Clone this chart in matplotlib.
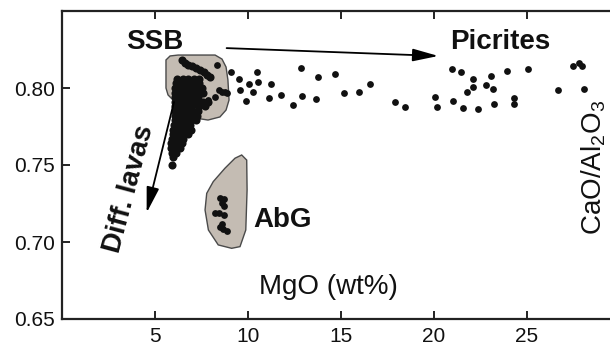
import matplotlib
matplotlib.use("Agg")
import matplotlib.pyplot as plt
from matplotlib.patches import Polygon

plt.rcParams['font.family'] = ['Liberation Sans', 'DejaVu Sans']
plt.rcParams['mathtext.fontset'] = 'custom'
plt.rcParams['mathtext.rm'] = 'Liberation Sans'

# ---- data ----
# SSB dense cluster (rows of points)
ssb_rows = [
    (0.806, [6.2, 6.5, 6.8, 7.1, 7.35]),
    (0.803, [6.15, 6.45, 6.75, 7.05, 7.35]),
    (0.800, [6.1, 6.4, 6.7, 7.0, 7.3, 7.55]),
    (0.797, [6.1, 6.4, 6.7, 7.0, 7.3, 7.6]),
    (0.794, [6.1, 6.4, 6.7, 7.0, 7.3]),
    (0.791, [6.1, 6.4, 6.7, 7.0, 7.3, 7.6, 7.85]),
    (0.788, [6.1, 6.4, 6.7, 7.0, 7.35, 7.7]),
    (0.785, [6.1, 6.4, 6.7, 7.0, 7.3]),
    (0.782, [6.1, 6.4, 6.7, 7.0, 7.25]),
    (0.779, [6.05, 6.35, 6.65, 6.95, 7.2]),
    (0.776, [6.0, 6.3, 6.6, 6.9]),
    (0.773, [5.95, 6.25, 6.55, 6.95]),
    (0.770, [5.95, 6.25, 6.5, 6.75]),
    (0.767, [5.9, 6.2, 6.5]),
    (0.764, [5.85, 6.15, 6.45]),
    (0.761, [5.85, 6.1, 6.35]),
    (0.758, [5.9, 6.15]),
    (0.7555, [5.95]),
    (0.750, [5.9]),
]
ssb_streak_x = [6.45, 6.62, 6.8, 7.0, 7.2, 7.42, 7.62, 7.8, 7.96]
ssb_streak_y = [0.8180, 0.8165, 0.8152, 0.8140, 0.8128, 0.8115, 0.8102, 0.8085, 0.8070]
ssb_edge_x = [8.32, 8.59, 8.85, 8.23, 7.85, 8.76, 8.45]
ssb_edge_y = [0.8149, 0.7976, 0.7966, 0.7944, 0.7922, 0.7976, 0.7990]

# Picrites / scattered high-MgO samples
pic_x = [9.09, 9.54, 10.47, 10.03, 10.56, 9.59, 10.28, 11.25, 9.88, 11.11,
         11.79, 12.87, 13.78, 12.89, 12.44, 13.63, 14.66, 15.17, 15.98, 16.54,
         17.90, 18.42, 20.04, 20.16, 20.95, 21.44, 21.04, 21.56, 21.76, 22.07,
         22.11, 22.35, 22.81, 23.08, 23.16, 23.21, 23.91, 24.31, 24.29, 25.07,
         26.67, 28.05, 27.45, 27.94, 27.80]
pic_y = [0.8106, 0.8060, 0.8106, 0.8024, 0.8039, 0.7987, 0.7973, 0.8029, 0.7914, 0.7937,
         0.7953, 0.8132, 0.8071, 0.7946, 0.7890, 0.7931, 0.8091, 0.7966, 0.7974, 0.8028,
         0.7906, 0.7875, 0.7944, 0.7877, 0.8122, 0.8101, 0.7914, 0.7870, 0.7976, 0.8057,
         0.8008, 0.7866, 0.8021, 0.8080, 0.7992, 0.7895, 0.8112, 0.7938, 0.7897, 0.8123,
         0.7987, 0.7995, 0.8144, 0.8144, 0.8164]

# AbG samples
abg_x = [8.49, 8.73, 8.59, 8.73, 8.23, 8.44, 8.73, 8.49, 8.67, 8.85, 8.59]
abg_y = [0.7284, 0.7277, 0.7251, 0.7234, 0.7190, 0.7186, 0.7175, 0.7099, 0.7084, 0.7071, 0.7117]

# field outlines
ssb_field_x = [5.59, 5.81, 6.24, 8.23, 8.60, 8.82, 8.92, 8.98, 8.82, 8.49, 7.85, 7.15, 6.61, 5.97, 5.70, 5.59, 5.59]
ssb_field_y = [0.8182, 0.8208, 0.8214, 0.8214, 0.8188, 0.8136, 0.8052, 0.7922, 0.7857, 0.7812, 0.7792, 0.7805, 0.7857, 0.7922, 0.7955, 0.8000, 0.8130]
abg_field_x = [9.66, 9.93, 9.95, 9.88, 9.57, 9.12, 8.40, 7.87, 7.69, 7.78, 8.13, 8.76, 9.30]
abg_field_y = [0.7565, 0.7532, 0.7338, 0.7078, 0.6970, 0.6959, 0.6981, 0.7078, 0.7208, 0.7316, 0.7392, 0.7479, 0.7544]

x_ticks = [5, 10, 15, 20, 25]
y_ticks = [0.65, 0.70, 0.75, 0.80]
y_tick_labels = ['0.65', '0.70', '0.75', '0.80']

# ---- figure ----
fig = plt.figure(figsize=(6.10, 3.47), dpi=100)
ax = fig.add_axes([62 / 610, 1 - 319 / 347, 1 - 62 / 610, (319 - 11) / 347])
ax.set_xlim(0, 29.46)
ax.set_ylim(0.65, 0.85)

fill_c = '#c4bcb3'
edge_c = '#4a4a4a'
ax.add_patch(Polygon(list(zip(ssb_field_x, ssb_field_y)), closed=True,
                     facecolor=fill_c, edgecolor=edge_c, lw=1.0, zorder=1))
ax.add_patch(Polygon(list(zip(abg_field_x, abg_field_y)), closed=True,
                     facecolor=fill_c, edgecolor=edge_c, lw=1.0, zorder=1))

ssb_x = [x for y, xs in ssb_rows for x in xs]
ssb_y = [y for y, xs in ssb_rows for x in xs]
mk = dict(marker='o', s=24, color='#111111', linewidths=0, zorder=3)
ax.scatter(ssb_x, ssb_y, marker='o', s=34, color='#111111', linewidths=0, zorder=3)
ax.scatter(ssb_streak_x, ssb_streak_y, marker='o', s=34, color='#111111', linewidths=0, zorder=3)
ax.scatter(ssb_edge_x, ssb_edge_y, **mk)
ax.scatter(pic_x, pic_y, **mk)
ax.scatter(abg_x, abg_y, **mk)

arrow_kw = dict(arrowstyle='-|>,head_length=1.3,head_width=0.32', color='black',
                lw=1.3, mutation_scale=12, shrinkA=0, shrinkB=0)
ax.annotate('', xy=(20.23, 0.8208), xytext=(8.85, 0.8259), arrowprops=arrow_kw, zorder=4)
ax.annotate('', xy=(4.55, 0.7190), xytext=(6.02, 0.7909), arrowprops=arrow_kw, zorder=4)

bold = dict(fontsize=20, fontweight='bold', ha='center', va='center', color='#111111')
ax.text(4.97, 0.8299, 'SSB', **bold)
ax.text(23.55, 0.8299, 'Picrites', **bold)
ax.text(11.88, 0.7143, 'AbG', **bold)
ax.text(3.62, 0.7344, 'Diff. lavas', rotation=75, rotation_mode='anchor', **bold)
ax.text(14.3, 0.6705, 'MgO (wt%)', fontsize=20, ha='center', va='center', color='#111111')
ax.text(28.6, 0.7487, r'CaO/Al$_2$O$_3$', fontsize=20, rotation=90,
        ha='center', va='center', color='#111111')

ax.spines['right'].set_visible(False)
for s in ['left', 'bottom', 'top']:
    ax.spines[s].set_linewidth(1.6)
    ax.spines[s].set_color('#222222')

ax.set_xticks(x_ticks)
ax.set_xticklabels([str(t) for t in x_ticks])
ax.set_yticks(y_ticks)
ax.set_yticklabels(y_tick_labels)
ax.tick_params(axis='both', direction='in', length=6, width=1.4, labelsize=15,
               color='#222222', labelcolor='#111111')
ax.tick_params(axis='x', top=True, pad=6)
ax.tick_params(axis='y', pad=5)

fig.savefig('out.png', dpi=100)
